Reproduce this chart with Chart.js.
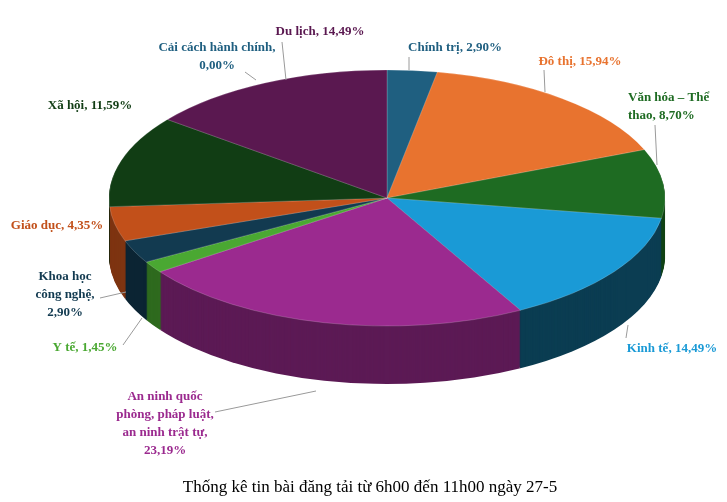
<!DOCTYPE html>
<html>
<head>
<meta charset="utf-8">
<script src="https://cdn.jsdelivr.net/npm/chart.js@4"></script>
<style>body{margin:0;background:#fff}</style>
</head>
<body>
<canvas id="myChart" width="727" height="502"></canvas>
<script>
const categories = ['Chính trị', 'Đô thị', 'Văn hóa – Thể thao', 'Kinh tế', 'An ninh quốc phòng, pháp luật, an ninh trật tự', 'Y tế', 'Khoa học công nghệ', 'Giáo dục', 'Xã hội', 'Cải cách hành chính', 'Du lịch'];
const shares = [2.90, 15.94, 8.70, 14.49, 23.19, 1.45, 2.90, 4.35, 11.59, 0.00, 14.49];
const colors = ['#1f5f80', '#e8732f', '#1e6b22', '#1a9ad6', '#9b2a8f', '#4aa832', '#123a50', '#c2501a', '#113d14', '#1f5f80', '#5a1850'];
const sides = ['#123a4e', '#a0501f', '#124416', '#0b3d52', '#5c1a55', '#2e6a1e', '#0b2433', '#7e3411', '#0a260c', '#123a4e', '#3a0f34'];
const labelColors = ['#1f5f80', '#e8732f', '#1e6b22', '#1a9ad6', '#9b2a8f', '#4aa832', '#123a50', '#c2501a', '#113d14', '#1f5f80', '#5a1850'];

// label text lines, anchor and leader lines
const labelText = [
  ['Chính trị, 2,90%'], ['Đô thị, 15,94%'], ['Văn hóa – Thể', 'thao, 8,70%'], ['Kinh tế, 14,49%'],
  ['An ninh quốc', 'phòng, pháp luật,', 'an ninh trật tự,', '23,19%'], ['Y tế, 1,45%'],
  ['Khoa học', 'công nghệ,', '2,90%'], ['Giáo dục, 4,35%'], ['Xã hội, 11,59%'],
  ['Cải cách hành chính,', '0,00%'], ['Du lịch, 14,49%']
];
const labelPos = [[455, 48, 'center'], [580, 62, 'center'], [628, 98, 'left'], [672, 349, 'center'],
  [165, 397, 'center'], [85, 348, 'center'], [65, 277, 'center'], [57, 226, 'center'], [90, 106, 'center'],
  [217, 48, 'center'], [320, 32, 'center']];
const leaders = [[409, 57, 409, 70], [544, 70, 545, 92], [655, 125, 657, 165], [626, 338, 628, 325],
  [215, 412, 316, 391], [123, 345, 142, 318], [100, 298, 126, 292], null, null, [245, 72, 256, 80], [282, 42, 286, 80]];

const CX = 387, CY = 198, RX = 278, RY = 128, DEPTH = 58;

const pie3d = {
  id: 'pie3d',
  beforeDatasetsDraw(chart) {
    const ctx = chart.ctx;
    const arcs = chart.getDatasetMeta(0).data;
    const r0 = arcs[0].outerRadius, ax = arcs[0].x, ay = arcs[0].y;
    const sx = RX / r0, sy = RY / r0;
    ctx.save();
    ctx.translate(CX, CY);
    ctx.scale(sx, sy);
    ctx.translate(-ax, -ay);
    for (let d = DEPTH; d > 0; d--) {
      const off = d / sy;
      arcs.forEach((a, i) => {
        if (a.endAngle - a.startAngle <= 0) return;
        ctx.beginPath();
        ctx.moveTo(a.x, a.y + off);
        ctx.arc(a.x, a.y + off, a.outerRadius, a.startAngle, a.endAngle);
        ctx.closePath();
        ctx.fillStyle = sides[i];
        ctx.fill();
      });
    }
  },
  afterDatasetsDraw(chart) {
    chart.ctx.restore();
  },
  afterDraw(chart) {
    const ctx = chart.ctx;
    ctx.save();
    ctx.strokeStyle = '#9a9a9a';
    ctx.lineWidth = 1;
    leaders.forEach(l => {
      if (!l) return;
      ctx.beginPath(); ctx.moveTo(l[0], l[1]); ctx.lineTo(l[2], l[3]); ctx.stroke();
    });
    ctx.font = 'bold 13px "Liberation Serif", "Times New Roman", serif';
    ctx.textBaseline = 'middle';
    labelText.forEach((lines, i) => {
      const [x, y, align] = labelPos[i];
      ctx.textAlign = align;
      ctx.fillStyle = labelColors[i];
      lines.forEach((t, k) => ctx.fillText(t, x, y + k * 18));
    });
    ctx.font = '17px "Liberation Serif", "Times New Roman", serif';
    ctx.textAlign = 'center';
    ctx.fillStyle = '#000';
    ctx.fillText('Thống kê tin bài đăng tải từ 6h00 đến 11h00 ngày 27-5', 370, 488);
    ctx.restore();
  }
};

new Chart(document.getElementById('myChart'), {
  type: 'pie',
  data: {
    labels: categories,
    datasets: [{
      data: shares,
      backgroundColor: colors,
      borderColor: 'rgba(255,255,255,0.35)',
      borderWidth: 0.6
    }]
  },
  options: {
    responsive: false,
    animation: false,
    layout: { padding: 20 },
    plugins: { legend: { display: false }, tooltip: { enabled: false } }
  },
  plugins: [pie3d]
});
</script>
</body>
</html>
